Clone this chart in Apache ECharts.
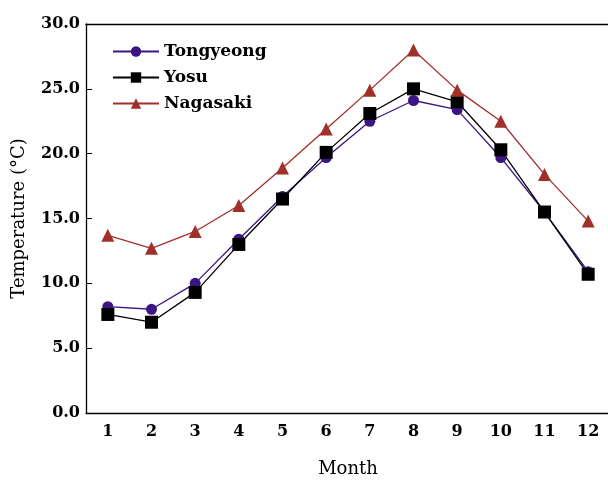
<!DOCTYPE html>
<html>
<head>
<meta charset="utf-8">
<script src="https://cdn.jsdelivr.net/npm/echarts@6/dist/echarts.min.js"></script>
<style>
  html, body { margin: 0; padding: 0; background: #fff; }
  #chart { width: 608px; height: 480px; }
</style>
</head>
<body>
<div id="chart"></div>
<script>
// Monthly mean air temperature at three coastal stations
const months = ['1', '2', '3', '4', '5', '6', '7', '8', '9', '10', '11', '12'];
const tongyeong = [8.2, 8.0, 10.0, 13.4, 16.7, 19.7, 22.5, 24.1, 23.4, 19.7, 15.5, 10.9];
const yosu      = [7.6, 7.0, 9.3, 13.0, 16.5, 20.1, 23.1, 25.0, 24.0, 20.3, 15.5, 10.7];
const nagasaki  = [13.7, 12.7, 14.0, 16.0, 18.9, 21.9, 24.9, 28.0, 24.9, 22.5, 18.4, 14.8];
const yTicks = { min: 0, max: 30, interval: 5 };

const serif = '"DejaVu Serif", "Liberation Serif", serif';

const chart = echarts.init(document.getElementById('chart'), null, { renderer: 'canvas' });

function lineSeries(name, data, color, symbol, size) {
  return {
    name: name,
    type: 'line',
    data: data,
    symbol: symbol,
    symbolSize: size,
    showAllSymbol: true,
    lineStyle: { color: color, width: 1.3 },
    itemStyle: { color: color, borderWidth: 0 },
    emphasis: { disabled: true },
    animation: false
  };
}

chart.setOption({
  backgroundColor: '#fff',
  animation: false,
  grid: { left: 86, right: -2, top: 24, bottom: 67, outerBoundsMode: 'none', containLabel: false },
  legend: {
    orient: 'vertical',
    left: 107, top: 38,
    itemWidth: 46, itemHeight: 13,
    itemGap: 9,
    textStyle: { fontFamily: serif, fontSize: 17, fontWeight: 'bold', color: '#000' },
    data: ['Tongyeong', 'Yosu', 'Nagasaki']
  },
  xAxis: [{
    type: 'category',
    data: months,
    boundaryGap: true,
    name: 'Month',
    nameLocation: 'middle',
    nameGap: 47,
    nameTextStyle: { fontFamily: serif, fontSize: 18, color: '#000' },
    axisLine: { lineStyle: { color: '#000', width: 1.3 } },
    axisTick: { inside: true, length: 6, lineStyle: { color: '#000', width: 1 } },
    axisLabel: { fontFamily: serif, fontSize: 16, fontWeight: 'bold', color: '#000', margin: 11 },
    splitLine: { show: false }
  }, {
    // top frame line only
    type: 'category',
    data: months,
    position: 'top',
    axisLine: { lineStyle: { color: '#000', width: 1.3 } },
    axisTick: { show: false },
    axisLabel: { show: false },
    splitLine: { show: false }
  }],
  yAxis: {
    type: 'value',
    min: yTicks.min, max: yTicks.max, interval: yTicks.interval,
    name: 'Temperature (°C)',
    nameLocation: 'middle',
    nameGap: 58,
    nameTextStyle: { fontFamily: serif, fontSize: 18, color: '#000' },
    axisLine: { show: true, lineStyle: { color: '#000', width: 1.3 } },
    axisTick: { show: true, inside: true, length: 6, lineStyle: { color: '#000', width: 1 } },
    axisLabel: {
      fontFamily: serif, fontSize: 16, fontWeight: 'bold', color: '#000', margin: 6,
      formatter: v => v.toFixed(1)
    },
    splitLine: { show: false }
  },
  series: [
    lineSeries('Tongyeong', tongyeong, '#3b1583', 'circle', 11),
    lineSeries('Yosu', yosu, '#000000', 'rect', 13),
    lineSeries('Nagasaki', nagasaki, '#a0302a', 'triangle', 13)
  ]
});
</script>
</body>
</html>
